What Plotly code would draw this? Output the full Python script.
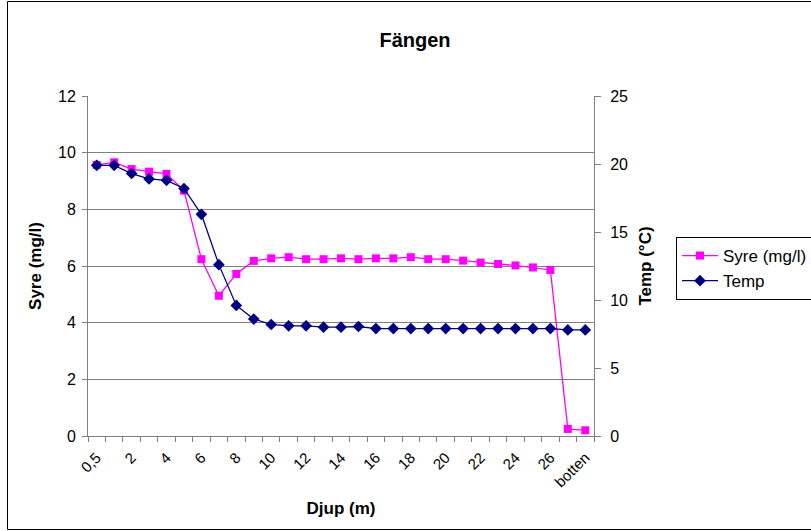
import plotly.graph_objects as go

categories = ["0,5"] + [str(i) for i in range(1, 28)] + ["botten"]
syre = [9.57, 9.66, 9.42, 9.33, 9.25, 8.66, 6.24, 4.95, 5.72, 6.18,
        6.27, 6.31, 6.24, 6.24, 6.27, 6.24, 6.27, 6.27, 6.31, 6.24,
        6.24, 6.19, 6.12, 6.07, 6.02, 5.95, 5.86, 0.25, 0.20]
temp = [19.9, 19.9, 19.3, 18.9, 18.8, 18.2, 16.3, 12.6, 9.6, 8.6,
        8.2, 8.1, 8.1, 8.0, 8.0, 8.05, 7.9, 7.9, 7.9, 7.9,
        7.9, 7.9, 7.9, 7.9, 7.9, 7.9, 7.9, 7.8, 7.8]

xs = list(range(len(categories)))
tickvals = xs[::2]
ticktext = [categories[i] for i in tickvals]

W, H = 811, 531
L, R, T, B = 88, 217, 96, 95
pw, ph = W - L - R, H - T - B

font = "Liberation Sans, Arial, sans-serif"

fig = go.Figure()
fig.add_trace(go.Scatter(
    x=xs, y=syre, name="Syre (mg/l)", mode="lines+markers",
    line=dict(color="#FF00FF", width=1.3),
    marker=dict(symbol="square", size=8, color="#FF00FF"),
))
fig.add_trace(go.Scatter(
    x=xs, y=temp, name="Temp", mode="lines+markers", yaxis="y2",
    line=dict(color="#000080", width=1.3),
    marker=dict(symbol="diamond", size=9, color="#000080"),
))

fig.update_layout(
    width=W, height=H,
    margin=dict(l=L, r=R, t=T, b=B, autoexpand=False),
    paper_bgcolor="white", plot_bgcolor="white",
    font=dict(family=font, size=15, color="black"),
    title=dict(text="<b>Fängen</b>", x=415 / W, xref="container", xanchor="center",
               y=1 - 40 / H, yref="container", yanchor="middle",
               font=dict(size=20, family=font, color="black")),
    showlegend=True,
    legend=dict(x=(676 - L) / pw, xanchor="left", y=(H - B - 237) / ph, yanchor="top",
                bgcolor="white", bordercolor="black", borderwidth=1,
                font=dict(size=17, family=font), tracegroupgap=0,
                itemwidth=36),
    xaxis=dict(
        range=[-0.5, len(categories) - 0.5],
        tickmode="array", tickvals=tickvals, ticktext=ticktext,
        tickangle=-45, ticks="", showgrid=False, zeroline=False,
        showline=True, linecolor="#808080", linewidth=1,
        tickfont=dict(size=15, family=font), ticklabelstandoff=6,
        minor=dict(ticks="outside", tick0=-0.5, dtick=1, ticklen=5,
                   tickcolor="#808080", showgrid=False),
        title=dict(text="<b>Djup (m)</b>", font=dict(size=17, family=font), standoff=12),
    ),
    yaxis=dict(
        range=[0, 12], dtick=2, ticks="outside", ticklen=5, tickcolor="#808080",
        showgrid=True, gridcolor="#808080", gridwidth=1, zeroline=False,
        showline=True, linecolor="#808080", linewidth=1,
        tickfont=dict(size=16, family=font), ticklabelstandoff=3,
        title=dict(text="<b>Syre (mg/l)</b>", font=dict(size=17, family=font), standoff=12),
    ),
    yaxis2=dict(
        range=[0, 25], dtick=5, overlaying="y", side="right",
        ticks="outside", ticklen=6, tickcolor="#808080",
        showgrid=False, zeroline=False,
        showline=True, linecolor="#808080", linewidth=1,
        tickfont=dict(size=16, family=font), ticklabelstandoff=6,
        title=dict(text="<b>Temp (°C)</b>", font=dict(size=17, family=font), standoff=12),
    ),
    shapes=[dict(type="rect", xref="paper", yref="paper",
                 x0=(7.5 - L) / pw, x1=(W - L + 5) / pw,
                 y0=(1.5 - B) / ph, y1=(H - B - 1.5) / ph,
                 line=dict(color="black", width=1), layer="below")],
)

fig.write_html("out.html")
